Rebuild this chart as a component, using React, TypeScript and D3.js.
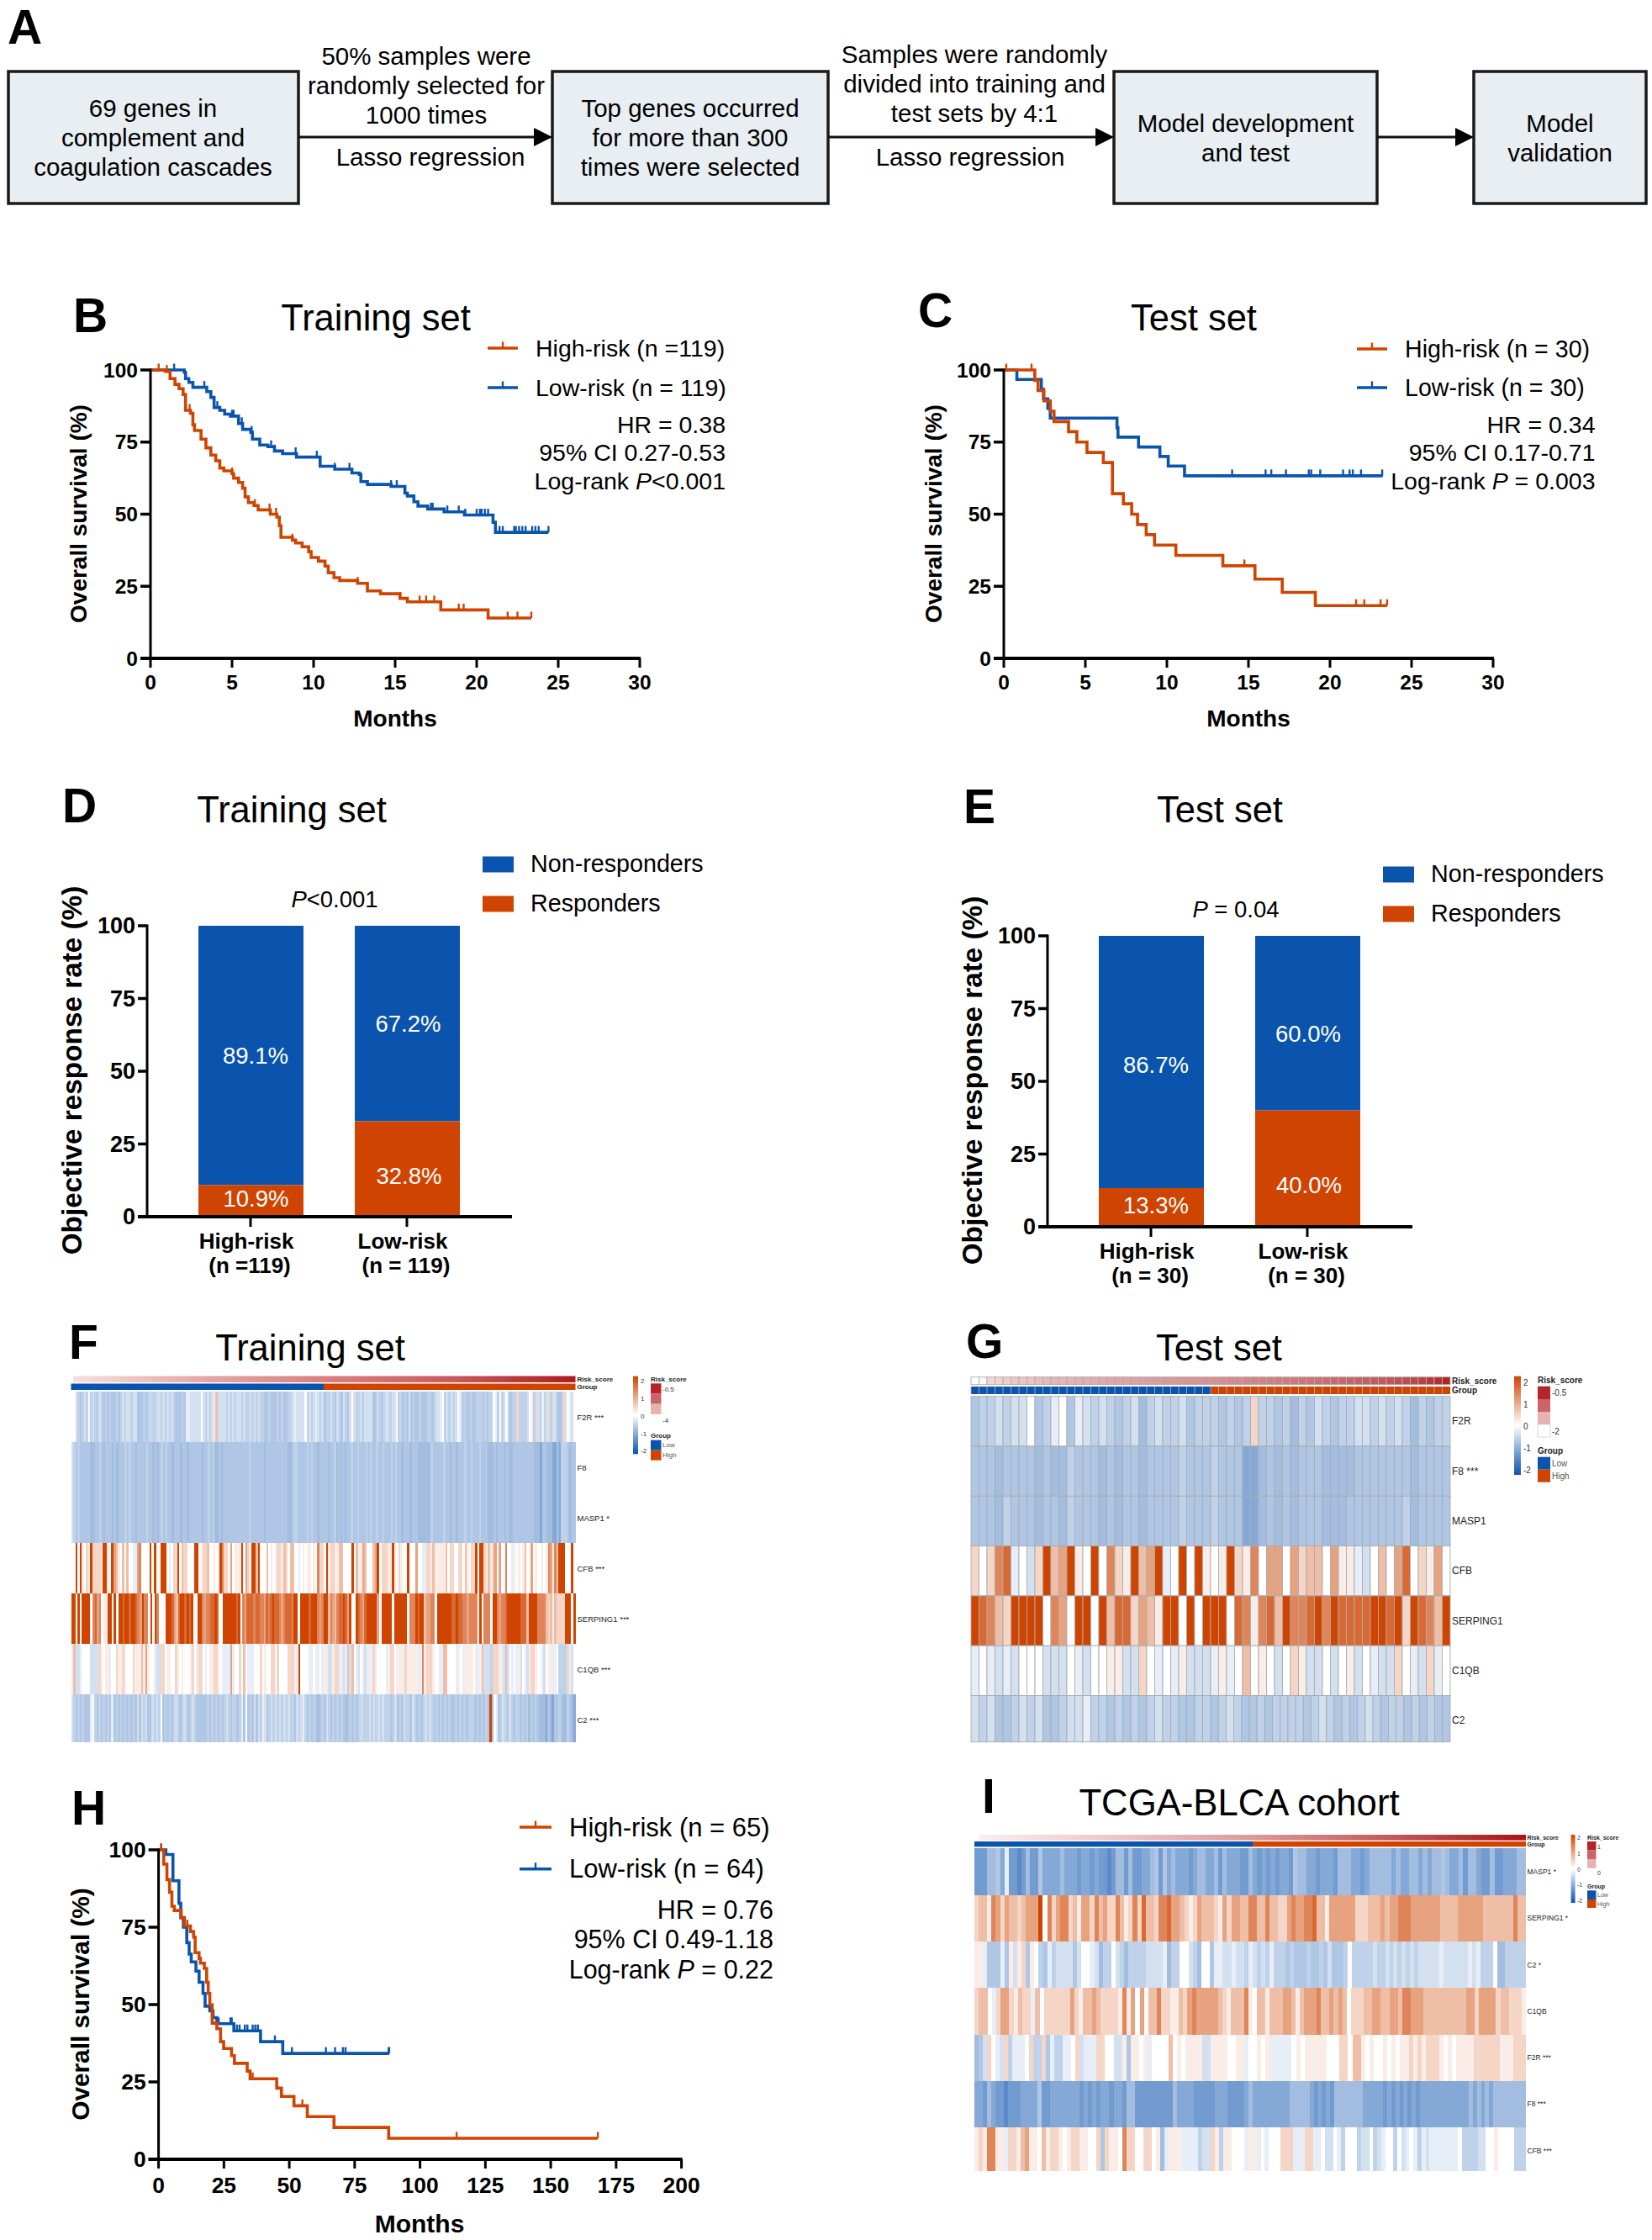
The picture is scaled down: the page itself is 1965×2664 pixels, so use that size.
import React from "react";
import * as d3 from "d3";

const BLUE = "#0a54ad";
const ORANGE = "#cf4400";
const FONT = "'Liberation Sans', Arial, sans-serif";

// ---------- Kaplan-Meier data: [months, survival %]
type P = [number, number];
const trainHigh: P[] = [[0,100],[0.9,99.5],[1.2,97],[1.5,95],[1.75,93.5],[2,91.5],[2.15,86],[2.45,85],[2.6,81],[2.7,79],[3.1,76],[3.4,73],[3.7,70.5],[4,68.5],[4.25,66],[4.5,65],[5,64],[5.1,62.5],[5.4,61],[5.65,59],[5.8,56],[6,54],[6.35,53],[6.6,51.5],[7.35,50],[7.75,49],[7.9,46],[8,42],[8.7,41],[8.9,40],[9.3,38.7],[9.7,37],[9.85,35],[10.3,33.7],[10.7,32],[10.9,29.7],[11.25,28],[11.6,27],[12.7,26],[13.3,23.4],[14.1,22.4],[15.3,20.8],[15.75,19.6],[17.8,16.8],[20.7,14],[23.35,14]];
const trainHighCensor = [0.5,1.0,2.4,3.1,5.0,6.4,7.3,7.7,8.7,12.7,15.3,16.5,16.9,17.4,18.9,19.2,20.7,21.9,22.5,23.35];
const trainLow: P[] = [[0,100],[2.07,99.2],[2.15,97],[2.35,95.7],[2.6,94],[3.45,92.5],[3.7,90.5],[3.9,87],[4.25,86],[4.55,84.7],[4.9,84],[5.4,81.4],[5.65,79.4],[6.15,78.4],[6.25,76],[6.7,74],[7.2,73.4],[7.6,71.9],[8.1,71],[8.95,69.8],[10.4,66.6],[11.3,65.6],[12.35,64.3],[12.8,63.8],[12.9,61.3],[13.3,60.3],[14.75,59.6],[15.6,57.3],[15.75,56.3],[16.15,54.3],[16.4,52.8],[17,51.8],[18,50.8],[19.25,49.7],[21,47.2],[21.15,43.7],[24.4,43.7]];
const trainLowCensor = [1.45,3.3,4.1,5,5.1,5.6,6.2,7.4,7.6,8.9,10.2,11.3,12.2,14.75,15.1,15.6,17.2,17.3,18.2,18.9,19.3,20,20.2,20.3,20.5,20.7,21.4,21.6,22.3,22.4,22.6,22.8,23,23.4,23.6,23.8,24.4];

const testHigh: P[] = [[0,100],[1.9,96.4],[2.1,92.9],[2.46,89.3],[2.85,85.7],[3.08,82.1],[3.97,78.6],[4.48,75],[5.1,71.4],[6.1,67.9],[6.66,57.1],[7.33,53.6],[7.84,50],[8.2,46.4],[8.73,42.9],[9.24,39.3],[10.55,35.7],[13.43,32.1],[15.4,27.5],[17.07,22.9],[19.1,18.3],[23.5,18.3]];
const testHighCensor = [0.15,1.7,14.75,21.6,22.1,23.1,23.5];
const testLow: P[] = [[0,100],[0.8,96.7],[2.3,93.3],[2.43,90],[2.7,86.7],[2.85,83.3],[6.94,80],[7,76.7],[8.26,73.3],[9.57,70],[10.08,66.7],[11.08,63.3],[23.23,63.3]];
const testLowCensor = [14,16.05,16.4,17.3,18.7,18.85,19.4,20.8,21.2,21.4,21.9,23.2];

const valHigh: P[] = [[0,100],[2,95.4],[3.2,90.4],[4.2,86.3],[5.1,81.8],[6,80.4],[8.65,78.1],[9.9,75.4],[12.2,73.6],[13.4,71.8],[14,66.8],[15.5,64.9],[16,63.4],[17.5,61.7],[18.4,57.2],[19,53.6],[19.6,49.9],[20.5,44],[22.3,42.2],[23.7,38],[24.9,35.8],[27.9,33.5],[29,31],[33.9,28.5],[35,26],[45.2,23],[47,20.3],[51.8,17.3],[56.9,13.8],[67.1,10.3],[88,6.8],[168,6.8]];
const valHighCensor = [1,11,36,55,114,168];
const valLow: P[] = [[0,100],[2.8,98.5],[5.5,90],[7.8,82.7],[8.5,78.1],[9.5,75],[10.8,70],[11.7,66.3],[12.5,63.8],[14.3,60.8],[15.5,57.2],[17,53.6],[17.8,49.5],[19.6,48],[20.8,45.8],[22.3,43.8],[28.8,41.5],[39,38],[47.5,34.2],[88.2,34.2]];
const valLowCensor = [1,21,23,27.5,28,30,31,33,34,36,37,38,44.5,51,64,67.5,70.5,71.5,88,88.2];

// ---------- Stacked bar data
const barCats = ["High-risk", "Low-risk"];
const trainResponders = [10.9, 32.8];
const trainNon = [89.1, 67.2];
const testResponders = [13.3, 40.0];
const testNon = [86.7, 60.0];

// ---------- Heatmap levels, one letter per sample
const LEVEL_KEYS = "abcdefghijklmnop".split("");
const LEVEL_VALUES = [-1.35,-1.15,-1.0,-0.76,-0.65,-0.52,-0.36,-0.2,0,0.2,0.45,0.7,1,1.3,1.6,2];

const fF2R = ["iigfefgfifgfegfefefeefefgfggfggeeefefgffggfgfgfgfeeefehhgggggigfgfghlggggfgfgfggfgffgfgfgffeefeeefefeeffghggggifgfghgfg","effgfegfegfegigffgfggggeegfefggfggiffefegefeefeeeffefgghifgfgfgihefeefeefffefeffihfifgifeffkffffgihfkgfhfgkfggeeekgihgi"];
const fF8 = ["gfefeeeeeddeefedeeededeeefefeedeeeefeededefefeedeeedeedeeeeeedeefefddedeeeeeeeeeeeefeeeeeedeeeeeeeeeeddeffeeeefefeedee","eedeefdededeefeefeeefefeefeefeeefefeedeeedeeeddddddfeeeeefeedeedeeefeefeeefeeedddedeeededdeeeeeeeeeedddceedddccdcfffedee"];
const fMASP1 = ["gfefeeeeeddeefedeeededeeefefeedeeeefeededefefeedeeedeedeeeeeedeefefddedeeeeeeeeeeeefeeeeeedeeeeeeeeeeddeffeeeefefeedee","eedeefdededeefeefeeefefeefeefeeefefeedeeedeeeddddddfeeeeefeedeedeeefeefeeefeeedddedeeededdeeeeeeeeeedddceedddccdcfffedee"];
const fCFB = ["iipipjikjpkkkkjppjipmljililiihhmniiiipipiipppihikkpilkkiiippijkkliijijpnkkimijjjpimkipplpiiilihijkkjlkilliihijijjijinkk","ipjkkjjlliiiipiljjmliiilmpikkkjjpjikjiipiiimiihhkkjljjjjjlikkiikkiljikkpippkjljlmimiiniihjijijliimijiijijnmjnlpppiiipi"];
const fSERPING1 = ["ppipippppinomnijjppipippoppopponmpnnipipniiipppomloppopopiippnmnnoopoiippppppopinmooonoonnmonopoonmnooonppippppopppnmn","pplnmlnoopompiiponmopppppmipppppippppppinnnpopplmmnnipppppppoopoonnmnnnnipinnnippnmnnoppppppooolppppnnnnlkljlkkkkpppip"];
const fC1QB = ["hlgghiiiiggggkjijjhiikjjkjiiikjjjljmjiihggkkijjiikjijiiijkihkkihijjkkjihhhhmhiikilihhhiiikijiikkikiiiikkkjhpiiiihhijhih","jjggjkkhhghlglihgihghhjkhiiiihjkkijjjhkjjjjjhhnjkkkjiihhlliiiihjihjjjjihhjlgggfkkkjhglgihihjgihgjkkjiihgijjhhiffffkhgi"];
const fC2 = ["gfefefeeehifefefefehefefefefefegegfgeegfgfiefefefgfefgfefgfeeeeefefefefefgfeffefheiefegegfjgefgfgfgfgfgffegfghfefefedef","egfefefefedefefefgfffgfgfgfgfffefgefegffegfefefgfgfefefefefeefefefefffefefefepdihefgfegfeffefefdfefedddcedceefeddfedc"];

const iMASP1 = ["bbbddechbbabdbbeccccdcccbccbcbbabddbdbbccdebecdcccbcddccdbdcccbbd","cbcbcbccbeddccbcccbdddccbcdddddcdccddcdcddedccdbddcbbdbbcccdd"];
const iSERPING1 = ["klljnmkmllklmmmpinkmnnkljmmknlmkknljknkollknnommlkjkmlllkjmkmmlln","nllnllkkmnmmnnolljmmmmmmkkklllmlmmnnnmmmmmmmllllmmmmmmlllllllnll"];
const iC2 = ["jjheeehejgjkejifehfggggegiihgdffigfdffffgggghdffiigfdiiehhgghggfh","gfgfhfffefeeefeefegeeefifffffgffgfgfgfgfggggghgggggghghfffiddfffff"];
const iC1QB = ["kllihkmmkjlkkhlikkkkkkmkjllmlkkkkjnjmimillnkkjjlkmnmmmmmlkjlllnj","illjlllmmljlmmmnllmlmlikkkllmmllmmlnnmmmllllllllllmmkmmmmkllkkkj"];
const iF2R = ["degkihgkfhhhikffkehffhhikghhhkkiiggjejjijhiiiilijijjjjggjjjjiijjhi","ijijhhhhhijijjjjjiiikkilljijiijijijjkjkjkkkjijijjjjkkkkkkjjjkkk"];
const iF8 = ["ccbdcbbabbbccccebbcccccccbcbcbccbccbddbbbbbbbbbdccccbbbbbcccbbbbcd","cccccccccdddddcbcbcbdddddddcccccbcbcbcbcbccccccccccccdcdcdcdddddddd"];
const iCFB = ["jkjnnjjhkkjlmjjiljkkjijkkjjiikekjjinkkiikkijdhjjjhhhhfggkjfjjiiihj","jhihiiikkkhhhkkhhiggihfiiifggifghiifighihfhghhhhhhhiffffggiijiiiifff"];

const gF2R = "effgfggiefhiehgfgfefgdfgffgefffefefkffefdfegfeffggfgfgfdfeff";
const gF8 = "eeedeeeededdfeeededeedeeeefeeefeeeccdededeeeddddeeeeeeedeeee";
const gMASP1 = "eeedfeeedeedfeeededeedeeeefeeefeeeccdededeeedddeeeeeeefdeeee";
const gCFB = "kiknohigkplmpjipinkjplmphipipjijpkjnimmimkllimjjhgilimoikjmi";
const gSERPING1 = "ponlkppppinmippiplookmljppipipppionjnolpnnopnpooooppopkponlp";
const gC1QB = "hihghgiiigggihgiijjggkihihjggghjhilijigikjggigijgihggkihgkhi";
const gC2 = "gfgeefgfgeefgghffefefefgffeeffefgfeefeffffefgfefefgfeffefefee";
const gRisk = [-2,-1.95,-1.72,-1.7,-1.66,-1.62,-1.6,-1.58,-1.55,-1.52,-1.5,-1.5,-1.48,-1.46,-1.45,-1.44,-1.42,-1.4,-1.38,-1.38,-1.36,-1.35,-1.34,-1.32,-1.3,-1.3,-1.28,-1.27,-1.26,-1.25,-1.24,-1.22,-1.2,-1.2,-1.18,-1.16,-1.15,-1.14,-1.12,-1.1,-1.08,-1.07,-1.05,-1.04,-1.02,-1,-0.98,-0.96,-0.94,-0.92,-0.9,-0.88,-0.85,-0.82,-0.8,-0.76,-0.72,-0.66,-0.6,-0.52];

const levelOf = d3.scaleOrdinal<string, number>().domain(LEVEL_KEYS).range(LEVEL_VALUES);
const heatColor = d3.scaleLinear<string>().domain([-2, 0, 2]).range(["#0a52ad", "#ffffff", "#cf4400"]);
const riskColor = d3.scaleLinear<string>().domain([-2, -1.5, -1, -0.5]).range(["#ffffff", "#e8b6b6", "#cb6a6c", "#b01f24"]);
const parseRow = (s: string) => s.split("").map((c) => levelOf(c));

const T = (p: any) => <text fontFamily={FONT} fill="#000" {...p} />;

function Letter({ x, y, c }: { x: number; y: number; c: string }) {
  return <T x={x} y={y} fontSize={57} fontWeight={700}>{c}</T>;
}

function Lines({ x, ys, lines, size, anchor = "middle" }: any) {
  return <>{lines.map((l: any, i: number) => (
    <T key={i} x={x} y={ys[i]} fontSize={size} textAnchor={anchor} dominantBaseline="central">{l}</T>
  ))}</>;
}

function FlowBox({ x0, x1, y0 = 85, y1 = 242 }: any) {
  return <rect x={x0} y={y0} width={x1 - x0} height={y1 - y0} fill="#e8eef2" stroke="#1a1a1a" strokeWidth={3.5} />;
}
function Arrow({ x0, x1, y = 163 }: any) {
  return <g>
    <line x1={x0} x2={x1 - 18} y1={y} y2={y} stroke="#111" strokeWidth={3} />
    <path d={`M${x1 - 22},${y - 11}L${x1},${y}L${x1 - 22},${y + 11}Z`} fill="#000" />
  </g>;
}

function KM({ x0, x1, y100, y0, xMax, xStep, series, tickSize, ytitleX, ytitleSize, monthsX, monthsY, monthsSize, tickLabelDy }: any) {
  const x = d3.scaleLinear().domain([0, xMax]).range([x0, x1]);
  const y = d3.scaleLinear().domain([0, 100]).range([y0, y100]);
  const line = d3.line<P>().x((d) => x(d[0])).y((d) => y(d[1])).curve(d3.curveStepAfter);
  const xTicks = d3.range(0, xMax + 1, xStep);
  const surv = (pts: P[], t: number) => {
    const i = d3.bisector((d: P) => d[0]).right(pts, t) - 1;
    return pts[Math.max(i, 0)][1];
  };
  return <g>
    {series.map((s: any, k: number) => (
      <g key={k}>
        <path d={line(s.pts)!} fill="none" stroke={s.color} strokeWidth={3.6} />
        {s.censor.map((t: number, j: number) => (
          <line key={j} x1={x(t)} x2={x(t)} y1={y(surv(s.pts, t))} y2={y(surv(s.pts, t)) - 7.5} stroke={s.color} strokeWidth={2.4} />
        ))}
      </g>
    ))}
    <line x1={x0} x2={x0} y1={y100 - 1.5} y2={y0} stroke="#000" strokeWidth={3} />
    <line x1={x0 - 12} x2={x1 + 1} y1={y0} y2={y0} stroke="#000" strokeWidth={4} />
    {[0, 25, 50, 75, 100].map((v) => <g key={v}>
      <line x1={x0 - 12} x2={x0} y1={y(v)} y2={y(v)} stroke="#000" strokeWidth={3.5} />
      <T x={x0 - 15} y={y(v)} fontSize={tickSize} fontWeight={700} textAnchor="end" dominantBaseline="central">{v}</T>
    </g>)}
    {xTicks.map((v) => <g key={v}>
      <line x1={x(v)} x2={x(v)} y1={y0} y2={y0 + 11} stroke="#000" strokeWidth={3} />
      <T x={x(v)} y={y0 + tickLabelDy} fontSize={tickSize} fontWeight={700} textAnchor="middle" dominantBaseline="central">{v}</T>
    </g>)}
    <T transform={`translate(${ytitleX},${(y0 + y100) / 2 - 0.5})rotate(-90)`} fontSize={ytitleSize} fontWeight={700} textAnchor="middle" dominantBaseline="central">Overall survival (%)</T>
    <T x={monthsX} y={monthsY} fontSize={monthsSize} fontWeight={700} textAnchor="middle" dominantBaseline="central">Months</T>
  </g>;
}

function KMLegend({ lineX0, lineX1, textX, y0, y1, size, high, low }: any) {
  const item = (y: number, c: string, t: string) => <g>
    <line x1={lineX0} x2={lineX1} y1={y} y2={y} stroke={c} strokeWidth={3.6} />
    <line x1={(lineX0 + lineX1) / 2} x2={(lineX0 + lineX1) / 2} y1={y} y2={y - 7.5} stroke={c} strokeWidth={2.4} />
    <T x={textX} y={y} fontSize={size} dominantBaseline="central">{t}</T>
  </g>;
  return <g>{item(y0, ORANGE, high)}{item(y1, BLUE, low)}</g>;
}

function Stat({ x, ys, size, hr, ci, p }: any) {
  return <g fontFamily={FONT}>
    <T x={x} y={ys[0]} fontSize={size} textAnchor="end" dominantBaseline="central">{hr}</T>
    <T x={x} y={ys[1]} fontSize={size} textAnchor="end" dominantBaseline="central">{ci}</T>
    <T x={x} y={ys[2]} fontSize={size} textAnchor="end" dominantBaseline="central">Log-rank <tspan fontStyle="italic">P</tspan>{p}</T>
  </g>;
}

function Bars({ dx, dy, responders, non, labels, nLabels, pText, pX, pY, valPos }: any) {
  const y = d3.scaleLinear().domain([0, 100]).range([1447 + dy, 1101 + dy]);
  const barX = d3.scaleOrdinal<string, number>().domain(barCats).range([236 + dx, 422 + dx]);
  const x0 = 175 + dx;
  return <g>
    {barCats.map((c, i) => {
      const bx = barX(c);
      const bw = 125;
      return <g key={c}>
        <rect x={bx} y={y(100)} width={bw} height={y(responders[i]) - y(100)} fill={BLUE} />
        <rect x={bx} y={y(responders[i])} width={bw} height={y(0) - y(responders[i])} fill={ORANGE} />
        <T x={valPos[i][0] + dx} y={valPos[i][1] + dy} fontSize={27.5} fill="#fff" textAnchor="middle" dominantBaseline="central">{non[i].toFixed(1)}%</T>
        <T x={valPos[i][2] + dx} y={valPos[i][3] + dy} fontSize={27.5} fill="#fff" textAnchor="middle" dominantBaseline="central">{responders[i].toFixed(1)}%</T>
        <line x1={bx + 62} x2={bx + 62} y1={y(0)} y2={y(0) + 12} stroke="#000" strokeWidth={3} />
        <T x={bx + 57} y={1475.5 + dy} fontSize={26} fontWeight={700} textAnchor="middle" dominantBaseline="central">{labels[i]}</T>
        <T x={bx + 61} y={1504.5 + dy} fontSize={26} fontWeight={700} textAnchor="middle" dominantBaseline="central">{nLabels[i]}</T>
      </g>;
    })}
    <line x1={x0} x2={x0} y1={y(100) - 1.5} y2={y(0)} stroke="#000" strokeWidth={3} />
    <line x1={x0 - 11} x2={609 + dx} y1={y(0)} y2={y(0)} stroke="#000" strokeWidth={4} />
    {[0, 25, 50, 75, 100].map((v) => <g key={v}>
      <line x1={x0 - 11} x2={x0} y1={y(v)} y2={y(v)} stroke="#000" strokeWidth={3.5} />
      <T x={x0 - 14} y={y(v)} fontSize={27} fontWeight={700} textAnchor="end" dominantBaseline="central">{v}</T>
    </g>)}
    <T transform={`translate(${85 + dx},${1273 + dy})rotate(-90)`} fontSize={33.3} fontWeight={700} textAnchor="middle" dominantBaseline="central">Objective response rate (%)</T>
    <rect x={574 + dx} y={1018.5 + dy} width={37} height={19} fill={BLUE} />
    <rect x={574 + dx} y={1065.5 + dy} width={37} height={19} fill={ORANGE} />
    <T x={631 + dx} y={1027 + dy} fontSize={28.7} dominantBaseline="central">Non-responders</T>
    <T x={631 + dx} y={1074 + dy} fontSize={28.7} dominantBaseline="central">Responders</T>
    <T x={pX} y={pY} fontSize={27.5} textAnchor="middle" dominantBaseline="central">{pText}</T>
  </g>;
}

function Heat({ x0, xm, x1, riskY, riskH, groupY, groupH, top, rowH, bottom, rows, labelSize, labelX, headSize, grid, riskVals, gradId, riskX0 }: any) {
  const yRow = d3.scaleLinear().domain([0, 1]).range([top, top + rowH]);
  const half = (vals: number[], a: number, b: number, yy: number, h: number, key: string) => {
    const xs = d3.scaleBand<number>().domain(d3.range(vals.length)).range([a, b]);
    return vals.map((v, i) => (
      <rect key={key + i} x={xs(i)!} y={yy} width={xs.bandwidth() + (grid ? 0 : 0.4)} height={h}
        fill={heatColor(v)} stroke={grid ? "#a9adb0" : "none"} strokeWidth={grid ? 0.9 : 0} shapeRendering={grid ? undefined : "crispEdges"} />
    ));
  };
  const rx = riskVals ? d3.scaleBand<number>().domain(d3.range(riskVals.length)).range([x0, x1]) : null;
  return <g>
    {rx ? riskVals.map((v: number, i: number) => (
      <rect key={i} x={rx(i)!} y={riskY} width={rx.bandwidth()} height={riskH} fill={riskColor(v)} stroke="#a9adb0" strokeWidth={0.9} />
    )) : <rect x={riskX0 ?? x0} y={riskY} width={x1 - (riskX0 ?? x0)} height={riskH} fill={`url(#${gradId})`} />}
    <rect x={x0} y={groupY} width={xm - x0} height={groupH} fill={BLUE} />
    <rect x={xm} y={groupY} width={x1 - xm} height={groupH} fill={ORANGE} />
    {grid && d3.range(60).map((i) => <line key={i} x1={x0 + (i * (x1 - x0)) / 60} x2={x0 + (i * (x1 - x0)) / 60} y1={groupY} y2={groupY + groupH} stroke="#a9adb0" strokeWidth={0.9} />)}
    {rows.map((r: any, k: number) => {
      const yy = yRow(k);
      const h = Math.min(rowH, bottom - yy);
      return <g key={r.label}>
        {half(parseRow(r.left), x0, xm, yy, h, "l")}
        {half(parseRow(r.right), xm, x1, yy, h, "r")}
        <T x={labelX} y={yy + rowH / 2} fontSize={labelSize} fill="#222" dominantBaseline="central">{r.label}</T>
      </g>;
    })}
    <T x={labelX} y={riskY + riskH / 2} fontSize={headSize} fontWeight={700} fill="#222" dominantBaseline="central">Risk_score</T>
    <T x={labelX} y={groupY + groupH / 2} fontSize={headSize} fontWeight={700} fill="#222" dominantBaseline="central">Group</T>
  </g>;
}

function HeatLegend({ barX, barW, barY0, barY1, tickYs, tickX, swX, swW, swYs, topLabel, botLabel, topY, botY, valX, titleY, groupTitleY, lowY, highY, endY, titleSize, valSize }: any) {
  return <g>
    <rect x={barX} y={barY0} width={barW} height={barY1 - barY0} fill="url(#colorbar)" />
    {[2, 1, 0, -1, -2].map((v, i) => <T key={v} x={tickX} y={tickYs[i]} fontSize={valSize} fill="#333" dominantBaseline="central">{v}</T>)}
    <T x={swX} y={titleY} fontSize={titleSize} fontWeight={700} fill="#222" dominantBaseline="central">Risk_score</T>
    {swYs.slice(0, -1).map((y: number, i: number) => (
      <rect key={i} x={swX} y={y} width={swW} height={swYs[i + 1] - y} fill={["#b5242a", "#ca6466", "#e6b3b3", "#ffffff"][i]} stroke={i === 3 ? "#ccc" : "none"} strokeWidth={0.8} />
    ))}
    <T x={valX} y={topY} fontSize={valSize} fill="#333" dominantBaseline="central">{topLabel}</T>
    <T x={valX} y={botY} fontSize={valSize} fill="#333" dominantBaseline="central">{botLabel}</T>
    <T x={swX} y={groupTitleY} fontSize={titleSize} fontWeight={700} fill="#222" dominantBaseline="central">Group</T>
    <rect x={swX} y={lowY} width={swW} height={highY - lowY} fill={BLUE} />
    <rect x={swX} y={highY} width={swW} height={endY - highY} fill={ORANGE} />
    <T x={valX} y={(lowY + highY) / 2} fontSize={valSize} fill="#555" dominantBaseline="central">Low</T>
    <T x={valX} y={(highY + endY) / 2} fontSize={valSize} fill="#555" dominantBaseline="central">High</T>
  </g>;
}

const mk = (label: string, p: string[]) => ({ label, left: p[0], right: p[1] });
const split = (label: string, s: string) => ({ label, left: s.slice(0, 30), right: s.slice(30) });

const fRows = [mk("F2R ***", fF2R), mk("F8", fF8), mk("MASP1 *", fMASP1), mk("CFB ***", fCFB), mk("SERPING1 ***", fSERPING1), mk("C1QB ***", fC1QB), mk("C2 ***", fC2)];
const gRows = [split("F2R", gF2R), split("F8 ***", gF8), split("MASP1", gMASP1), split("CFB", gCFB), split("SERPING1", gSERPING1), split("C1QB", gC1QB), split("C2", gC2)];
const iRows = [mk("MASP1 *", iMASP1), mk("SERPING1 *", iSERPING1), mk("C2 *", iC2), mk("C1QB", iC1QB), mk("F2R ***", iF2R), mk("F8 ***", iF8), mk("CFB ***", iCFB)];

const fRiskStops = ["#f6e0dd", "#e5a8a6", "#d98080", "#c75c5e", "#aa1c20"];
const iRiskStops = ["#fbeeee", "#efc5c5", "#dc9a9a", "#c25a5c", "#a81418"];

const Grad = ({ id, stops }: { id: string; stops: string[] }) => (
  <linearGradient id={id} x1="0" x2="1" y1="0" y2="0">
    {stops.map((c, i) => <stop key={i} offset={i / (stops.length - 1)} stopColor={c} />)}
  </linearGradient>
);

export default function App() {
  return (
    <svg width={1965} height={2664} viewBox="0 0 1965 2664" style={{ position: "absolute", left: 0, top: 0, background: "#fff" }}>
      <defs>
        <Grad id="riskF" stops={fRiskStops} />
        <Grad id="riskI" stops={iRiskStops} />
        <linearGradient id="colorbar" x1="0" x2="0" y1="0" y2="1">
          <stop offset="0" stopColor={heatColor(2)} />
          <stop offset="0.5" stopColor={heatColor(0)} />
          <stop offset="1" stopColor={heatColor(-2)} />
        </linearGradient>
      </defs>

      {/* A */}
      <Letter x={9} y={52} c="A" />
      <FlowBox x0={10} x1={355} />
      <FlowBox x0={657} x1={985} />
      <FlowBox x0={1325} x1={1638} />
      <FlowBox x0={1753} x1={1958} />
      <Arrow x0={355} x1={657} />
      <Arrow x0={985} x1={1325} />
      <Arrow x0={1638} x1={1753} />
      <Lines x={182} ys={[128.5, 163.5, 198.5]} size={29.5} lines={["69 genes in", "complement and", "coagulation cascades"]} />
      <Lines x={821} ys={[128.5, 163.5, 198.5]} size={29.5} lines={["Top genes occurred", "for more than 300", "times were selected"]} />
      <Lines x={1481.5} ys={[146.5, 181.5]} size={29.5} lines={["Model development", "and test"]} />
      <Lines x={1855.5} ys={[146.5, 181.5]} size={29.5} lines={["Model", "validation"]} />
      <Lines x={507} ys={[66.5, 101.5, 136.5]} size={29.5} lines={["50% samples were", "randomly selected for", "1000 times"]} />
      <Lines x={512} ys={[186.5]} size={29.5} lines={["Lasso regression"]} />
      <Lines x={1159} ys={[64.5, 99.5, 134.5]} size={29.5} lines={["Samples were randomly", "divided into training and", "test sets by 4:1"]} />
      <Lines x={1154} ys={[186.5]} size={29.5} lines={["Lasso regression"]} />

      {/* B */}
      <Letter x={87} y={395} c="B" />
      <T x={447} y={393} fontSize={43.5} textAnchor="middle">Training set</T>
      <KM x0={179} x1={761} y100={440} y0={783} xMax={30} xStep={5} tickSize={24.5} tickLabelDy={28.5}
        ytitleX={93} ytitleSize={28} monthsX={470} monthsY={854.5} monthsSize={28}
        series={[{ pts: trainLow, censor: trainLowCensor, color: BLUE }, { pts: trainHigh, censor: trainHighCensor, color: ORANGE }]} />
      <KMLegend lineX0={580} lineX1={616} textX={637} y0={414} y1={461} size={28.5} high="High-risk (n =119)" low="Low-risk (n = 119)" />
      <Stat x={863} ys={[505, 538, 572]} size={28.5} hr="HR = 0.38" ci="95% CI 0.27-0.53" p="<0.001" />

      {/* C */}
      <Letter x={1092} y={389} c="C" />
      <T x={1420} y={393} fontSize={43.5} textAnchor="middle">Test set</T>
      <KM x0={1194} x1={1776} y100={440} y0={783} xMax={30} xStep={5} tickSize={24.5} tickLabelDy={28.5}
        ytitleX={1110} ytitleSize={28} monthsX={1485} monthsY={854.5} monthsSize={28}
        series={[{ pts: testLow, censor: testLowCensor, color: BLUE }, { pts: testHigh, censor: testHighCensor, color: ORANGE }]} />
      <KMLegend lineX0={1614} lineX1={1650} textX={1671} y0={415} y1={461} size={28.6} high="High-risk (n = 30)" low="Low-risk (n = 30)" />
      <Stat x={1897.5} ys={[505, 538, 572]} size={28.5} hr="HR = 0.34" ci="95% CI 0.17-0.71" p=" = 0.003" />

      {/* D */}
      <Letter x={74} y={978} c="D" />
      <T x={347} y={978} fontSize={43.5} textAnchor="middle">Training set</T>
      <Bars dx={0} dy={0} responders={trainResponders} non={trainNon} labels={barCats} nLabels={["(n =119)", "(n = 119)"]}
        pText={<><tspan fontStyle="italic">P</tspan>{"<0.001"}</>} pX={398} pY={1069}
        valPos={[[304, 1255.5, 304.5, 1425.5], [485.5, 1217, 486.5, 1398.5]]} />

      {/* E */}
      <Letter x={1146} y={979} c="E" />
      <T x={1451} y={978} fontSize={43.5} textAnchor="middle">Test set</T>
      <Bars dx={1071} dy={12} responders={testResponders} non={testNon} labels={barCats} nLabels={["(n = 30)", "(n = 30)"]}
        pText={<><tspan fontStyle="italic">P</tspan>{" = 0.04"}</>} pX={1470} pY={1081}
        valPos={[[304, 1254.5, 304, 1421.5], [485, 1217.5, 486, 1397.5]]} />

      {/* F */}
      <Letter x={82} y={1616} c="F" />
      <T x={369} y={1618} fontSize={43.5} textAnchor="middle">Training set</T>
      <Heat x0={84.5} xm={385} x1={684.5} riskY={1636.5} riskH={7.5} groupY={1645.5} groupH={7.5} riskX0={87}
        top={1655} rowH={60} bottom={2071.7} rows={fRows} labelSize={9.5} labelX={686.5} headSize={8} gradId="riskF" />
      <HeatLegend barX={753} barW={6} barY0={1636.7} barY1={1729.3} tickYs={[1642.7, 1663, 1684, 1705, 1725]} tickX={762}
        swX={774} swW={12.5} swYs={[1645.3, 1657.5, 1669.7, 1682]} topLabel="-0.5" botLabel="-4" topY={1652} botY={1689} valX={788}
        titleY={1640} groupTitleY={1707} lowY={1712.7} highY={1724.7} endY={1736.7} titleSize={8} valSize={8} />

      {/* G */}
      <Letter x={1149} y={1615} c="G" />
      <T x={1450} y={1618} fontSize={43.5} textAnchor="middle">Test set</T>
      <Heat x0={1155} xm={1440} x1={1725} riskY={1637.7} riskH={9} groupY={1649} groupH={9}
        top={1660.7} rowH={59.3} bottom={2071.7} rows={gRows} labelSize={12} labelX={1727} headSize={10} riskVals={gRisk} grid />
      <HeatLegend barX={1801} barW={8} barY0={1636.7} barY1={1754} tickYs={[1644, 1670.7, 1696.7, 1722.7, 1748]} tickX={1812}
        swX={1829} swW={15} swYs={[1648.7, 1664, 1679, 1694, 1709]} topLabel="-0.5" botLabel="-2" topY={1656.7} botY={1702} valX={1846}
        titleY={1641.7} groupTitleY={1725} lowY={1732.7} highY={1747.7} endY={1762.7} titleSize={10} valSize={10} />

      {/* H */}
      <Letter x={85} y={2170} c="H" />
      <KM x0={188.6} x1={810.6} y100={2200} y0={2568} xMax={200} xStep={25} tickSize={26.4} tickLabelDy={31}
        ytitleX={95} ytitleSize={29.8} monthsX={499} monthsY={2644} monthsSize={30}
        series={[{ pts: valLow, censor: valLowCensor, color: BLUE }, { pts: valHigh, censor: valHighCensor, color: ORANGE }]} />
      <KMLegend lineX0={618} lineX1={656} textX={677} y0={2173} y1={2222.7} size={31} high="High-risk (n = 65)" low="Low-risk (n = 64)" />
      <Stat x={920} ys={[2270.6, 2305.7, 2342]} size={30.5} hr="HR = 0.76" ci="95% CI 0.49-1.18" p=" = 0.22" />

      {/* I */}
      <Letter x={1168} y={2156} c="I" />
      <T x={1474} y={2159} fontSize={43.7} textAnchor="middle">TCGA-BLCA cohort</T>
      <Heat x0={1159} xm={1490} x1={1815} riskY={2182} riskH={6.7} groupY={2190} groupH={6.3} riskX0={1164}
        top={2198.3} rowH={55.3} bottom={2581.7} rows={iRows} labelSize={8.5} labelX={1816.5} headSize={7} gradId="riskI" />
      <HeatLegend barX={1868.6} barW={5} barY0={2182} barY1={2263} tickYs={[2185.7, 2204.7, 2223.3, 2241.7, 2260]} tickX={1876}
        swX={1888} swW={10.5} swYs={[2190, 2200.5, 2211, 2221.7]} topLabel="1" botLabel="0" topY={2196} botY={2227} valX={1900}
        titleY={2185} groupTitleY={2243} lowY={2248.3} highY={2259} endY={2269} titleSize={7} valSize={7} />
    </svg>
  );
}
